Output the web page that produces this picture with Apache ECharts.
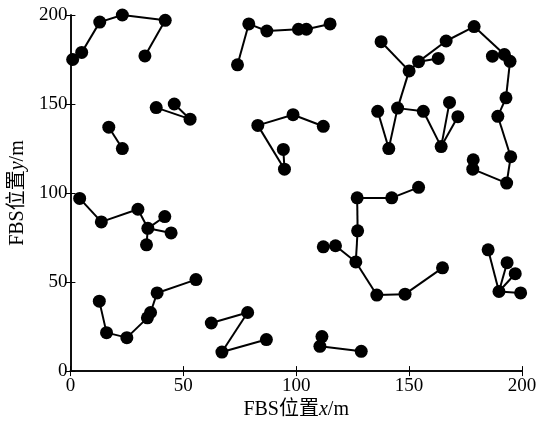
<!DOCTYPE html>
<html>
<head>
<meta charset="utf-8">
<style>
  html, body { margin: 0; padding: 0; background: #fff; }
  #chart { width: 544px; height: 425px; }
</style>
<script src="https://cdn.jsdelivr.net/npm/echarts@6/dist/echarts.min.js"></script>
</head>
<body>
<div id="chart"></div>
<script>
"use strict";

/* ---------- 数据 ---------- */
// FBS 位置 (m)
const fbsX = [
  1, 5, 13, 23, 42, 33,
  74, 79, 87, 101, 104.5, 115,
  38, 46, 53,
  17, 23,
  83, 98.6, 112, 94.3, 94.8,
  137.6, 150, 154.2, 162.9, 166.4, 178.8, 186.9, 192.2, 194.7, 192.9, 189.3, 195, 193.2, 178.4, 178.2,
  136.1, 141, 144.9, 156.3, 164.2, 167.9, 171.6,
  4.1, 13.7, 29.9, 34.3, 41.8, 44.6, 33.7,
  12.8, 16, 25, 34.1, 35.5, 38.4, 55.6,
  62.4, 78.5, 67.1, 86.8,
  127, 142.3, 154.2, 127.2, 126.4, 112, 117.4, 135.7, 148.2, 164.8,
  185, 189.8, 193.4, 197, 199.4,
  111.4, 110.5, 128.8
];
const fbsY = [
  175, 179, 196, 200, 197, 177,
  172, 195, 191, 192, 192, 195,
  148, 150, 141.5,
  137, 125,
  138, 144, 137.5, 124.5, 113.4,
  185, 168.6, 173.8, 175.6, 185.4, 193.5, 176.9, 177.8, 174, 153.5, 143.1, 120.4, 105.6, 118.7, 113.4,
  145.9, 125, 147.7, 145.9, 126.1, 150.9, 142.9,
  97, 83.8, 90.9, 80.2, 86.8, 77.6, 70.9,
  39.3, 21.6, 18.8, 29.9, 32.9, 43.9, 51.4,
  27, 32.9, 10.7, 17.7,
  97.3, 97.3, 103.2, 78.8, 61.3, 69.8, 70.4, 42.7, 43.2, 58,
  68.1, 44.7, 60.9, 54.7, 43.9,
  19.4, 13.9, 11.1
];
// 连接关系 (点序号对)
const links = [
  [0, 1], [1, 2], [2, 3], [3, 4], [4, 5],
  [6, 7], [7, 8], [8, 9], [9, 10], [10, 11],
  [12, 14], [13, 14],
  [15, 16],
  [19, 18], [18, 17], [17, 21], [21, 20],
  [22, 23], [23, 24], [24, 25], [24, 26], [26, 27], [27, 29], [28, 29], [29, 30],
  [30, 31], [31, 32], [32, 33], [33, 34], [34, 36], [35, 36],
  [23, 39], [39, 38], [38, 37], [39, 40], [40, 41], [41, 42], [41, 43],
  [44, 45], [45, 46], [46, 47], [47, 48], [47, 49], [47, 50],
  [51, 52], [52, 53], [53, 54], [54, 55], [55, 56], [56, 57],
  [58, 59], [59, 60], [60, 61],
  [64, 63], [63, 62], [62, 65], [65, 66], [67, 68], [68, 66], [66, 69], [69, 70], [70, 71],
  [73, 72], [73, 74], [73, 75], [73, 76],
  [77, 78], [78, 79]
];
const axisTicks = [0, 50, 100, 150, 200];

/* ---------- 绘图 ---------- */
const FONT = "'Liberation Serif', 'Times New Roman', 'Noto Sans CJK SC', serif";
const points = fbsX.map((x, i) => [x, fbsY[i]]);
const segs = links.map(([a, b]) => ({ coords: [points[a], points[b]] }));

const chart = echarts.init(document.getElementById("chart"), null, { renderer: "canvas" });

const baseAxis = {
  type: "value",
  min: axisTicks[0],
  max: axisTicks[axisTicks.length - 1],
  interval: 50,
  axisLine: { show: true, lineStyle: { color: "#000", width: 1.5 } },
  axisTick: { show: true, inside: true, length: 5, lineStyle: { color: "#000", width: 1 } },
  splitLine: { show: false },
  axisLabel: { color: "#000", fontSize: 19, fontFamily: FONT }
};

const nameStyle = {
  color: "#000", fontSize: 20, fontFamily: FONT,
  rich: { i: { fontStyle: "italic", fontSize: 20, fontFamily: FONT, color: "#000" } }
};

chart.setOption({
  backgroundColor: "#fff",
  animation: false,
  grid: { left: 69, right: 22, top: 15, bottom: 49 },
  xAxis: [
    Object.assign({}, baseAxis, {
      position: "bottom",
      name: "FBS位置{i|x}/m",
      nameLocation: "middle",
      nameGap: 25,
      nameTextStyle: nameStyle,
      axisLabel: { color: "#000", fontSize: 19, fontFamily: FONT, margin: 5 }
    }),
    Object.assign({}, baseAxis, { position: "top", axisLabel: { show: false } })
  ],
  yAxis: [
    Object.assign({}, baseAxis, {
      position: "left",
      name: "FBS位置{i|y}/m",
      nameLocation: "middle",
      nameGap: 40,
      nameRotate: 90,
      nameTextStyle: nameStyle,
      axisLabel: { color: "#000", fontSize: 19, fontFamily: FONT, margin: 3 }
    }),
    Object.assign({}, baseAxis, { position: "right", axisLabel: { show: false } })
  ],
  series: [
    {
      type: "lines",
      coordinateSystem: "cartesian2d",
      data: segs,
      lineStyle: { color: "#000", width: 2, opacity: 1, curveness: 0 },
      z: 2
    },
    {
      type: "scatter",
      data: points,
      symbol: "circle",
      symbolSize: 13,
      itemStyle: { color: "#000", opacity: 1 },
      clip: false,
      z: 3
    }
  ]
});
</script>
</body>
</html>
